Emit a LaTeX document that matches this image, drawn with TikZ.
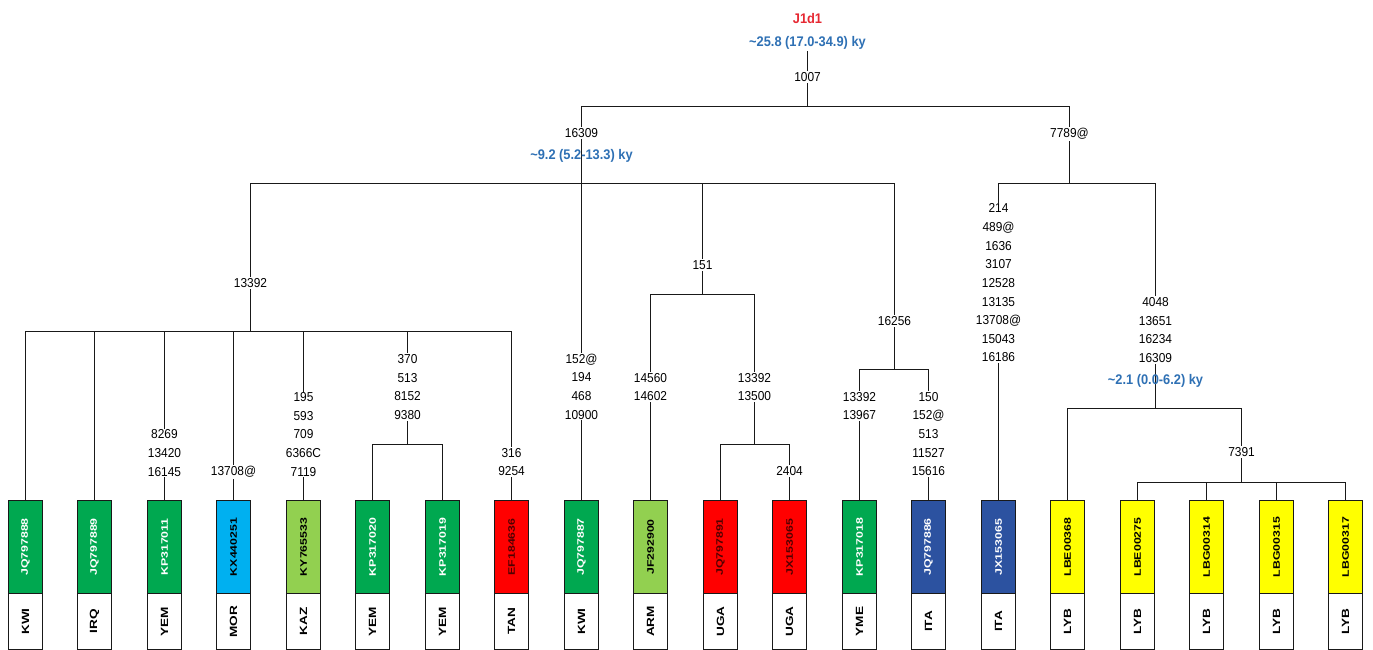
\documentclass[tikz,border=0pt]{standalone}
\usepackage{fontspec}
\setmainfont{Liberation Sans}[FakeStretch=0.92]
\newfontfamily\leaffont{Liberation Sans}[FakeStretch=1.3]

\definecolor{hgreen}{RGB}{0,168,80}
\definecolor{hlime}{RGB}{146,208,80}
\definecolor{hsky}{RGB}{0,176,240}
\definecolor{hred}{RGB}{255,0,0}
\definecolor{hnavy}{RGB}{44,82,160}
\definecolor{hyellow}{RGB}{255,255,0}
\definecolor{darkred}{RGB}{80,0,0}
\definecolor{agecol}{RGB}{46,112,180}
\definecolor{rootcol}{RGB}{230,40,50}

\begin{document}
\begin{tikzpicture}[x=1bp, y=-1bp, line width=1.7bp, color=black!90,
    mut/.style={fill=white, inner sep=1pt, align=center, text=black, font=\fontsize{13}{18.7}\selectfont},
    age/.style={text=agecol, inner sep=1pt, font=\fontsize{14}{16}\selectfont\bfseries},
    acc/.style={draw, rotate=90, minimum width=93bp, minimum height=34bp, inner sep=0pt,
        font=\leaffont\fontsize{9.5}{10}\selectfont\bfseries},
    ctry/.style={draw, fill=white, text=black, rotate=90, minimum width=56bp, minimum height=34bp, inner sep=0pt,
        font=\leaffont\fontsize{10.5}{11}\selectfont\bfseries}]
    \useasboundingbox (0,0) rectangle (1373,650);

    % samples
    \foreach \i/\fc/\tc/\acc/\cty in {
        0/hgreen/white/JQ797888/KWI, 1/hgreen/white/JQ797889/IRQ,
        2/hgreen/white/KP317011/YEM, 3/hsky/black/KX440251/MOR,
        4/hlime/black/KY765533/KAZ, 5/hgreen/white/KP317020/YEM,
        6/hgreen/white/KP317019/YEM, 7/hred/darkred/EF184636/TAN,
        8/hgreen/white/JQ797887/KWI, 9/hlime/black/JF292900/ARM,
        10/hred/darkred/JQ797891/UGA, 11/hred/darkred/JX153065/UGA,
        12/hgreen/white/KP317018/YME, 13/hnavy/white/JQ797886/ITA,
        14/hnavy/white/JX153065/ITA, 15/hyellow/black/LBE00368/LYB,
        16/hyellow/black/LBE00275/LYB, 17/hyellow/black/LBG00314/LYB,
        18/hyellow/black/LBG00315/LYB, 19/hyellow/black/LBG00317/LYB} {
        \node[acc, fill=\fc, text=\tc] (l\i) at ({25.5+floor(69.5*\i)}, 547) {\acc};
        \node[ctry] (c\i) at ({25.5+floor(69.5*\i)}, 621.5) {\cty};
    }

    \node[text=rootcol, inner sep=1pt, font=\fontsize{14}{16}\selectfont\bfseries] (j1d1) at (807.5,19) {J1d1};
    \node[age] (age0) at (807.5,43) {\textasciitilde25.8 (17.0-34.9) ky};

    \coordinate (root) at (807.5,106.5);
    \coordinate (k16309) at (581.5,183.5);
    \coordinate (k13392) at (250.5,331.5);
    \coordinate (k370) at (407.5,444.5);
    \coordinate (k151) at (702.5,294.5);
    \coordinate (k13500) at (754.5,444.5);
    \coordinate (k16256) at (894.5,369.5);
    \coordinate (k7789) at (1069.5,183.5);
    \coordinate (k4048) at (1155.5,408.5);
    \coordinate (k7391) at (1241.5,482.5);

    \draw (age0.south) -- (root);
    \draw (root) -| (k16309);
    \draw (root) -| (k7789);
    \draw (k16309) -| (k13392);
    \draw (k16309) -- (l8.east);
    \draw (k16309) -| (k151);
    \draw (k16309) -| (k16256);
    \foreach \j in {0,1,2,3,4,7}
        \draw (k13392) -| (l\j.east);
    \draw (k13392) -| (k370);
    \draw (k370) -| (l5.east);
    \draw (k370) -| (l6.east);
    \draw (k151) -| (l9.east);
    \draw (k151) -| (k13500);
    \draw (k13500) -| (l10.east);
    \draw (k13500) -| (l11.east);
    \draw (k16256) -| (l12.east);
    \draw (k16256) -| (l13.east);
    \draw (k7789) -| (l14.east);
    \draw (k7789) -| (k4048);
    \draw (k4048) -| (l15.east);
    \draw (k4048) -| (k7391);
    \foreach \j in {16,...,19}
        \draw (k7391) -| (l\j.east);

    % mutations on the branches
    \node[mut] (m1007) at (807.5,77) {1007};
    \node[mut] (m16309) at (581.5,133) {16309};
    \node[age] (age1) at (581.5,156) {\textasciitilde9.2 (5.2-13.3) ky};
    \node[mut] (m7789) at (1069.5,134) {7789@};
    \node[mut] (m13392) at (250.5,283) {13392};
    \node[mut] (m16145) at (164.5,453) {8269\\13420\\16145};
    \node[mut] (m13708) at (233.5,472) {13708@};
    \node[mut] (m7119) at (303.5,434.5) {195\\593\\709\\6366C\\7119};
    \node[mut] (m9380) at (407.5,387) {370\\513\\8152\\9380};
    \node[mut] (m9254) at (511.5,462) {316\\9254};
    \node[mut] (m10900) at (581.5,386.5) {152@\\194\\468\\10900};
    \node[mut] (m151) at (702.5,265) {151};
    \node[mut] (m14602) at (650.5,387) {14560\\14602};
    \node[mut] (m13500) at (754.5,387) {13392\\13500};
    \node[mut] (m2404) at (789.5,471) {2404};
    \node[mut] (m16256) at (894.5,321) {16256};
    \node[mut] (m13967) at (859.5,406) {13392\\13967};
    \node[mut] (m15616) at (928.5,434) {150\\152@\\513\\11527\\15616};
    \node[mut] (m16186) at (998.5,283) {214\\489@\\1636\\3107\\12528\\13135\\13708@\\15043\\16186};
    \node[mut] (m4048) at (1155.5,330) {4048\\13651\\16234\\16309};
    \node[age] (age2) at (1155.5,381) {\textasciitilde2.1 (0.0-6.2) ky};
    \node[mut] (m7391) at (1241.5,452) {7391};
\end{tikzpicture}
\end{document}
